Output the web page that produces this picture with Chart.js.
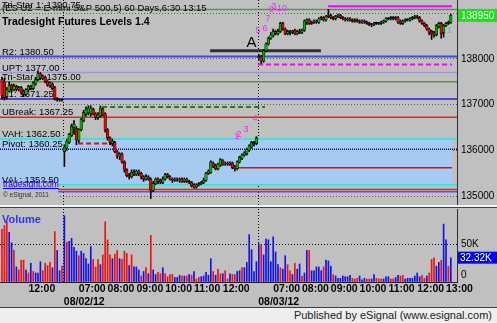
<!DOCTYPE html>
<html><head><meta charset="utf-8">
<script src="https://cdn.jsdelivr.net/npm/chart.js@4.4.1/dist/chart.umd.min.js"></script>
<style>
html,body{margin:0;padding:0}
body{width:497px;height:323px;background:#c0c0c0;position:relative;overflow:hidden;font-family:"Liberation Sans",Arial,sans-serif}
canvas{position:absolute;left:0}
#pc{top:0}
#vc{top:208px}
.ln{position:absolute}
#pub{position:absolute;left:0;top:308px;width:497px;height:15px;background:#eeeeee;font-size:11px;color:#222;text-align:right;line-height:15px}
#pub span{margin-right:5px}
</style></head><body>
<canvas id="pc" width="497" height="205"></canvas>
<div class="ln" style="left:0;top:205px;width:497px;height:2px;background:#f6f6f6"></div>
<div class="ln" style="left:0;top:207px;width:497px;height:1px;background:#404040"></div>
<canvas id="vc" width="497" height="99"></canvas>
<div class="ln" style="left:0;top:307px;width:497px;height:1px;background:#404040"></div>
<div id="pub"><span>Published by eSignal (www.esignal.com)</span></div>
<script>
// ---------- DATA ----------
const chartHeader = '(ES U2 = E-mini S&P 500,5) 60 Days,6:30 13:15';
const chartTitle = 'Tradesight Futures Levels 1.4';

const open = [
1375.5,1375.0,1371.75,1373.0,1374.25,1373.25,1374.0,1373.25,1373.75,1373.0,1372.25,1373.25,1374.0,1373.5,1374.5,1375.5,1376.75,1375.75,1376.0,1375.0,1374.25,1374.5,1373.75,1371.25,1371.0,1371.0,
1359.75,1360.5,1361.75,1363.25,1365.0,1364.75,1362.25,1364.5,1366.5,1368.0,
1368.25,1368.0,1369.0,1368.0,1367.25,1367.5,1369.0,1368.0,1364.5,1362.75,
1361.5,1361.75,1359.75,1358.75,1359.25,1357.5,1355.75,1354.5,1354.25,1355.25,
1354.75,1355.5,1355.0,1354.25,1353.75,1354.25,1353.75,1351.25,1352.75,1353.75,
1353.5,1353.0,1353.75,1354.75,1354.25,1353.75,1353.5,1353.75,1353.5,1353.75,
1353.25,1353.75,1353.25,1353.0,1352.5,1352.0,1352.5,1352.75,1353.0,1353.5,
1355.0,1355.25,1357.25,1356.75,1356.0,1356.75,1357.75,1357.0,1357.25,1357.0,
1357.25,1356.5,1356.0,1357.5,1358.25,1359.0,1359.25,1360.0,1360.75,1361.75,
1361.5,
1380.25,1380.5,1379.5,1381.75,1383.25,1384.5,1385.0,1386.0,1385.5,1386.0,
1387.75,1386.5,1385.5,1386.0,1385.75,1386.25,1385.5,1386.0,1385.75,1386.25,
1388.0,1388.5,1387.75,1388.0,1388.25,1388.0,1388.75,1389.0,1388.5,1389.25,
1389.5,1389.0,1388.75,1389.25,1389.5,1389.0,1388.75,1388.5,1388.75,1388.5,
1388.25,1388.5,1388.25,1388.0,1388.25,1388.0,1387.75,1387.5,1387.5,1387.75,
1387.75,1387.75,1388.0,1388.25,1388.75,1388.75,1389.0,1388.75,1389.0,1388.25,
1387.75,1388.25,1388.5,1388.5,1388.75,1389.0,1389.25,1389.0,1388.25,1387.75,
1387.25,1386.5,1386.0,1385.75,1385.25,1387.0,1387.75,1385.75,1387.25,1387.75,
1388.0];
const high = [
1376.0,1375.75,1373.75,1375.0,1374.5,1374.5,1374.25,1374.0,1374.0,1373.25,1373.5,1374.25,1374.25,1375.0,1376.0,1377.25,1377.0,1376.5,1376.25,1375.25,1375.0,1374.75,1374.0,1371.5,1371.25,1371.25,
1361.25,1362.5,1363.75,1365.75,1366.5,1365.25,1364.75,1367.0,1368.75,1369.5,
1369.75,1369.75,1369.25,1368.25,1368.25,1369.75,1369.25,1368.25,1364.75,1363.0,
1362.5,1362.0,1360.0,1359.5,1359.5,1357.75,1356.0,1355.0,1355.75,1355.75,
1355.75,1355.75,1355.25,1354.5,1354.75,1354.5,1354.0,1353.25,1354.0,1354.0,
1353.75,1354.25,1355.0,1355.0,1354.5,1354.0,1354.0,1354.0,1354.0,1354.0,
1354.0,1354.0,1353.5,1353.25,1352.75,1352.75,1353.0,1353.25,1354.0,1355.25,
1355.75,1357.75,1357.5,1357.0,1357.25,1358.25,1358.0,1357.5,1357.5,1357.5,
1357.5,1356.75,1357.75,1358.75,1359.25,1359.75,1360.5,1361.25,1362.0,1362.0,
1363.0,
1381.0,1380.75,1382.0,1383.5,1384.75,1385.75,1386.5,1386.25,1386.5,1388.0,
1388.0,1386.75,1386.25,1386.25,1386.25,1386.5,1386.25,1386.5,1386.5,1388.5,
1388.75,1388.75,1388.25,1388.5,1388.5,1389.0,1389.25,1389.25,1389.5,1390.75,
1389.75,1389.25,1389.5,1389.75,1389.75,1389.25,1389.0,1389.0,1389.0,1388.75,
1388.75,1388.75,1388.5,1388.5,1388.5,1388.25,1388.0,1387.75,1388.0,1388.0,
1388.0,1388.25,1388.5,1389.0,1389.0,1389.25,1389.25,1389.25,1389.25,1388.5,
1388.5,1388.75,1388.75,1389.0,1389.25,1389.5,1389.5,1389.25,1388.5,1388.0,
1387.5,1386.75,1386.25,1386.0,1387.5,1388.0,1388.0,1387.5,1388.0,1388.25,
1389.75];
const low = [
1371.25,1371.0,1371.25,1372.75,1372.75,1373.0,1373.0,1373.0,1372.25,1371.75,1372.0,1373.0,1373.25,1373.25,1374.25,1375.25,1375.5,1375.5,1374.75,1374.0,1373.75,1373.25,1371.0,1370.75,1370.75,1370.75,
1356.5,1360.0,1361.5,1363.0,1363.5,1361.25,1361.75,1364.25,1366.25,1367.5,
1367.75,1367.5,1367.75,1366.75,1366.75,1367.25,1367.5,1364.0,1362.25,1361.25,
1361.0,1359.5,1358.25,1358.0,1357.25,1355.25,1354.25,1353.75,1354.0,1354.5,
1354.5,1354.5,1353.75,1353.25,1353.5,1353.5,1349.5,1351.0,1352.5,1352.75,
1352.75,1352.75,1353.5,1354.0,1353.5,1353.0,1353.25,1353.25,1353.0,1353.0,
1353.0,1353.0,1352.75,1352.0,1351.75,1351.75,1352.25,1352.5,1352.75,1353.25,
1354.75,1355.0,1356.25,1355.75,1355.75,1356.5,1356.75,1356.75,1356.75,1356.75,
1356.0,1355.5,1355.75,1357.25,1358.0,1358.75,1359.0,1359.75,1360.5,1361.0,
1361.25,
1379.75,1379.0,1379.25,1381.5,1383.0,1384.25,1384.75,1385.25,1385.25,1385.75,
1386.25,1385.25,1385.25,1385.25,1385.5,1385.25,1385.25,1385.5,1385.5,1386.0,
1387.5,1387.5,1387.5,1387.75,1387.75,1387.75,1388.5,1388.25,1388.25,1389.0,
1388.75,1388.5,1388.5,1389.0,1388.75,1388.5,1388.25,1388.25,1388.25,1388.0,
1388.0,1388.0,1387.75,1387.75,1387.75,1387.5,1387.25,1387.0,1387.25,1387.5,
1387.5,1387.5,1387.75,1388.0,1388.5,1388.5,1388.5,1388.5,1387.75,1387.5,
1387.5,1388.0,1388.25,1388.25,1388.5,1388.75,1388.75,1388.0,1387.5,1387.0,
1386.25,1385.25,1384.25,1384.75,1385.0,1386.75,1384.5,1384.75,1387.0,1387.5,
1387.75];
const close = [
1372.0,1371.5,1373.25,1374.25,1373.25,1374.0,1373.25,1373.75,1372.75,1372.25,1373.25,1374.0,1373.5,1374.75,1375.5,1376.75,1375.75,1376.25,1375.0,1374.25,1374.75,1373.5,1371.25,1371.25,1371.0,1371.0,
1360.75,1362.0,1363.5,1365.25,1365.75,1362.25,1364.5,1366.75,1368.25,1369.0,
1369.25,1369.25,1368.0,1367.25,1367.75,1369.25,1367.75,1364.5,1362.75,1361.75,
1362.0,1359.75,1358.75,1359.25,1357.5,1355.75,1354.5,1354.25,1355.25,1354.75,
1355.5,1355.0,1354.25,1353.75,1354.25,1353.75,1351.25,1352.75,1353.75,1353.25,
1353.0,1353.75,1354.75,1354.25,1353.75,1353.5,1353.75,1353.5,1353.75,1353.25,
1353.75,1353.25,1353.0,1352.25,1352.0,1352.5,1352.75,1353.0,1353.5,1355.0,
1355.5,1357.5,1356.5,1356.0,1357.0,1358.0,1357.0,1357.25,1357.0,1357.25,
1356.25,1356.0,1357.5,1358.5,1359.0,1359.5,1360.25,1361.0,1361.75,1361.5,
1362.75,
1380.5,1379.5,1381.75,1383.25,1384.5,1385.25,1386.0,1385.5,1386.0,1387.75,
1386.5,1385.5,1386.0,1385.75,1386.0,1385.5,1386.0,1385.75,1386.25,1388.25,
1388.5,1387.75,1388.0,1388.25,1388.0,1388.75,1389.0,1388.5,1389.25,1389.5,
1389.0,1388.75,1389.25,1389.5,1389.0,1388.75,1388.5,1388.75,1388.5,1388.25,
1388.5,1388.25,1388.0,1388.25,1388.0,1387.75,1387.5,1387.5,1387.75,1387.75,
1387.75,1388.0,1388.25,1388.75,1388.75,1389.0,1388.75,1389.0,1388.0,1387.75,
1388.25,1388.5,1388.5,1388.75,1389.0,1389.25,1389.0,1388.25,1387.75,1387.25,
1386.5,1385.75,1385.5,1385.25,1387.25,1387.75,1385.5,1387.25,1387.75,1388.0,
1389.5];

// volume in thousands of contracts; direction u = blue, d = red
const volume = [
70,75,80,66,52,42,20,16,29,29,16,12,25,14,12,12,27,15,25,22,26,19,67,42,15,21,
88,53,54,58,46,41,35,41,38,31, 24,47,30,20,30,23,36,80,56,36,
31,37,42,31,30,41,38,22,36,20, 20,16,8,14,19,11,62,16,10,13,
11,19,11,7,10,10,6,6,9,8, 8,8,10,9,14,4,6,7,8,13,
9,31,14,9,17,11,11,15,4,11, 10,10,14,15,19,19,26,63,43,14, 27,
51,50,36,57,56,27,60,40,23,19, 17,35,23,15,10,25,17,24,8,12,
42,42,15,15,20,20,15,20,29,28, 21,10,8,5,5,8,7,7,9,5,
4,5,8,3,5,4,4,4,10,5, 4,4,4,7,7,4,4,6,9,8,
9,4,5,5,5,8,12,7,9,5, 8,12,30,32,21,26,29,77,56,21, 32.32];
const volDir = [
'd','d','d','u','u','d','u','d','d','d','u','d','u','d','u','u','u','d','d','d','d','u','d','u','u','d',
'u','d','u','u','u','u','d','u','u','u', 'u','u','d','d','d','u','d','d','d','d',
'u','d','d','u','d','d','d','u','d','u', 'u','u','d','u','d','u','d','u','u','d',
'd','u','d','d','d','d','u','u','u','d', 'u','d','u','d','u','d','d','u','u','u',
'u','u','d','u','d','d','u','d','d','u', 'd','d','u','u','d','u','u','u','u','u', 'u',
'u','d','u','u','u','u','u','u','u','d', 'u','u','d','d','u','d','u','u','d','u',
'u','d','u','u','u','u','u','d','u','u', 'u','d','u','u','u','u','u','u','u','d',
'd','d','u','u','u','d','d','u','u','d', 'd','d','u','u','u','d','d','u','u','d',
'd','u','u','u','u','u','u','u','d','d', 'u','d','d','d','u','u','d','u','u','d', 'u'];

// labelled levels
const levelNames  = ['Tri-Star 1','R2','UPT','Tri-Star 2','R1','UBreak','VAH','Pivot','VAL','S1'];
const levelValues = [1390.75, 1380.50, 1377.00, 1375.00, 1371.25, 1367.25, 1362.50, 1360.25, 1352.50, 1351.50];
const extraLevelValues = [1351.00];
// partial segments: value, from bar, to bar
const segValues = [1391.50, 1381.75, 1378.75, 1369.50, 1361.50, 1356.25];
const segFromBar = [135.8, 86.7, 106.7, 41.7, 31.7, 97.5];
const segToBar   = [187.5, 132.9, 187.5, 109.6, 46.2, 187.5];
const valueAreaEndBar = 187.5;

// text annotations on bars
const noteText  = ['A','5','6','7','0','3','10','1','2','3','4','1'];
const noteBar   = [103.95,106.7,109.6,110.8,112.3,113.3,116.7,97.8,98.75,101.7,105.4,186.3];
const notePrice = [1383.45,1386.1,1386.7,1388.7,1390.8,1391.5,1391.0,1363.15,1363.4,1364.5,1366.9,1386.1];

// axes
const priceTicks = [1350, 1360, 1370, 1380, 1390];
const volTicks = [0, 50];
const timeTickBars = [11, 32, 44, 56, 68, 80, 92, 113, 125, 137, 149, 161, 173, 185];
const timeTickLabels = ['12:00','07:00','08:00','09:00','10:00','11:00','12:00','07:00','08:00','09:00','10:00','11:00','12:00','13:00'];
const dayStartBars = [26, 107];
const dayLabels = ['08/02/12', '08/03/12'];

// ---------- STYLE / LAYOUT ----------
const FONT = '"Liberation Sans", Arial, Helvetica, sans-serif';
const xMin = -0.83, xMax = 189.58;
const priceMin = 1348.09, priceMax = 1392.85;
const volMax = 97;
const levelStyle = {
  'Tri-Star 1': {c:'#4c9a4c', w:1.5}, 'R2': {c:'#4848e8', w:2}, 'UPT': {c:'#a894d0', w:1.5},
  'Tri-Star 2': {c:'#4c9a4c', w:1.5}, 'R1': {c:'#2424d8', w:1.5}, 'UBreak': {c:'#e82020', w:1.5},
  'VAH': {c:'#20e8e8', w:1.5}, 'Pivot': {c:'#000090', w:1.5, d:[1,1]}, 'VAL': {c:'#20e8e8', w:1.5},
  'S1': {c:'#e82020', w:1.5}
};
const extraStyle = [{c:'#5050ff', w:1.5}];
const segStyle = [{c:'#ff00ff', w:2}, {c:'#303030', w:3}, {c:'#ff00ff', w:2, d:[5,3]},
                  {c:'#208020', w:2, d:[5,3]}, {c:'#ff0000', w:2, d:[5,3]}, {c:'#ff0000', w:1.5}];
const noteStyle = noteText.map((t, k) => k === 0 ? {f:'15px', c:'#000'} : (k === noteText.length - 1 ? {f:'9px', c:'#70c070'} : {f:'9px', c:'#ff20ff'}));

const N = close.length;
const idx = Array.from({length: N}, (_, i) => i);
const sepTicks = dayStartBars.map(b => b - 0.25);

function hLine(v, from, to, st) {
  return {type:'line', data:[{x:from, y:v}, {x:to, y:v}], borderColor:st.c, borderWidth:st.w,
          borderDash:st.d || [], pointRadius:0, fill:false, tension:0, order:5};
}

// ---------- PRICE CHART ----------
const pds = [];
pds.push({type:'line', data:[{x:xMin, y:levelValues[6]}, {x:valueAreaEndBar, y:levelValues[6]}],
          borderColor:'rgba(0,0,0,0)', borderWidth:0, pointRadius:0, fill:'+1', backgroundColor:'#a6caf0', order:20});
pds.push({type:'line', data:[{x:xMin, y:levelValues[8]}, {x:valueAreaEndBar, y:levelValues[8]}],
          borderColor:'rgba(0,0,0,0)', borderWidth:0, pointRadius:0, fill:false, order:20});
levelNames.forEach((n, k) => pds.push(hLine(levelValues[k], xMin, xMax, levelStyle[n])));
extraLevelValues.forEach((v, k) => pds.push(hLine(v, xMin, xMax, extraStyle[k])));
segValues.forEach((v, k) => pds.push(hLine(v, segFromBar[k], segToBar[k], segStyle[k])));
const wickIndex = pds.length;
pds.push({type:'bar', data: idx.map(i => ({x:i, y:[low[i], high[i]]})), backgroundColor:'#000',
          barThickness:1, grouped:false, order:2, borderWidth:0});
pds.push({type:'bar', data: idx.map(i => ({x:i, y:[open[i], close[i]]})),
          backgroundColor: idx.map(i => close[i] > open[i] ? '#00b400' : (close[i] < open[i] ? '#f00000' : '#000')),
          borderColor:'#000', borderWidth:0.6, borderSkipped:false,
          barThickness:2.6, minBarLength:1, grouped:false, order:1});

const priceDeco = {
  id: 'priceDeco',
  beforeDatasetDraw(chart, args) {
    if (args.index !== wickIndex) return;
    const {ctx, chartArea: a} = chart; const y = chart.scales.y;
    ctx.save();
    ctx.fillStyle = '#000'; ctx.textAlign = 'left'; ctx.textBaseline = 'alphabetic';
    ctx.font = '9.5px ' + FONT;
    ctx.fillText(chartHeader, a.left + 2, 11);
    levelNames.forEach((n, k) => ctx.fillText(n + ': ' + levelValues[k].toFixed(2), a.left + 2, y.getPixelForValue(levelValues[k]) - 2));
    ctx.font = 'bold 10.5px ' + FONT;
    ctx.fillText(chartTitle, a.left + 2, 25);
    ctx.restore();
  },
  afterDatasetsDraw(chart) {
    const {ctx, chartArea: a} = chart; const x = chart.scales.x, y = chart.scales.y;
    ctx.save();
    ctx.textAlign = 'center'; ctx.textBaseline = 'middle';
    noteText.forEach((t, k) => {
      ctx.font = noteStyle[k].f + ' ' + FONT; ctx.fillStyle = noteStyle[k].c;
      ctx.fillText(t, x.getPixelForValue(noteBar[k]), y.getPixelForValue(notePrice[k]));
    });
    // watermark
    ctx.fillStyle = '#c0c0c0'; ctx.fillRect(a.left, 182.5, 58, 18);
    ctx.textAlign = 'left'; ctx.textBaseline = 'alphabetic';
    ctx.font = '8.5px ' + FONT; ctx.fillStyle = '#0000ff';
    ctx.fillText('tradesight.com', a.left + 3, 186.5);
    const w = ctx.measureText('tradesight.com').width;
    ctx.fillRect(a.left + 3, 188, w, 1);
    ctx.font = '6.5px ' + FONT; ctx.fillStyle = '#303030';
    ctx.fillText('\u00A9 eSignal, 2011', a.left + 3, 197);
    ctx.restore();
  },
  afterDraw(chart) {
    const {ctx, chartArea: a} = chart; const y = chart.scales.y;
    const last = close[N - 1]; const py = y.getPixelForValue(last);
    ctx.save();
    ctx.fillStyle = '#22dd22'; ctx.fillRect(a.right + 1, py - 6.5, chart.width - a.right - 1, 13);
    ctx.fillStyle = '#f0fff0'; ctx.font = '10px ' + FONT; ctx.textAlign = 'left'; ctx.textBaseline = 'middle';
    ctx.fillText(String(Math.round(last * 100)), a.right + 4, py + 0.5);
    ctx.restore();
  }
};

new Chart(document.getElementById('pc'), {
  type: 'line',
  data: {datasets: pds},
  options: {
    responsive:false, animation:false, events:[], devicePixelRatio:1,
    layout:{padding:0},
    plugins:{legend:{display:false}, tooltip:{enabled:false}},
    scales:{
      x:{type:'linear', min:xMin, max:xMax, bounds:'data', offset:false, display:true,
         afterBuildTicks: s => { s.ticks = sepTicks.map(v => ({value:v})); },
         ticks:{display:false},
         grid:{color:'#000', drawTicks:false, offset:false, lineWidth:1},
         border:{display:false, dash:[1,2]},
         afterFit: s => { s.height = 0; s.paddingLeft = 0; s.paddingRight = 0; }},
      y:{type:'linear', position:'right', min:priceMin, max:priceMax, bounds:'data', beginAtZero:false,
         afterBuildTicks: s => { s.ticks = priceTicks.map(v => ({value:v})); },
         ticks:{callback: v => v === 1390 ? '' : String(Math.round(v * 100)), font:{family:FONT, size:10}, color:'#000', padding:4},
         grid:{color:'#5a5a5a', drawTicks:false},
         border:{display:true, color:'#303030', dash:[1,2]},
         afterFit: s => { s.width = 40; s.paddingTop = 0; s.paddingBottom = 0; }}
    }
  },
  plugins:[priceDeco]
});

// ---------- VOLUME CHART ----------
const xTickVals = timeTickBars.concat(sepTicks).sort((a, b) => a - b);
function xLabel(v) {
  const k = timeTickBars.indexOf(v);
  if (k >= 0) return timeTickLabels[k];
  const d = sepTicks.findIndex(s => Math.abs(s - v) < 1e-6);
  return d >= 0 ? ['', dayLabels[d]] : '';
}
const volDeco = {
  id: 'volDeco',
  afterDatasetsDraw(chart) {
    const {ctx, chartArea: a} = chart;
    ctx.save();
    ctx.font = 'bold 11px ' + FONT; ctx.fillStyle = '#3030ff'; ctx.textAlign = 'left'; ctx.textBaseline = 'alphabetic';
    ctx.fillText('Volume', a.left + 2, a.top + 14);
    ctx.restore();
  },
  afterDraw(chart) {
    const {ctx, chartArea: a} = chart; const y = chart.scales.y;
    ctx.save();
    ctx.font = '10px ' + FONT; ctx.textAlign = 'left'; ctx.textBaseline = 'middle';
    ctx.fillStyle = '#000';
    ctx.fillText('0', a.right + 4, y.getPixelForValue(0) - 7);
    const lv = volume[N - 1]; const py = y.getPixelForValue(lv);
    ctx.fillStyle = '#0000ff'; ctx.fillRect(a.right + 1, py - 6, chart.width - a.right - 1, 12);
    ctx.fillStyle = '#ffffff';
    ctx.fillText(lv.toFixed(2) + 'K', a.right + 3, py + 0.5);
    ctx.restore();
  }
};
new Chart(document.getElementById('vc'), {
  type: 'line',
  data: {datasets: [{
    type:'bar', data: idx.map(i => ({x:i, y:volume[i]})),
    backgroundColor: idx.map(i => volDir[i] === 'u' ? '#1010f0' : '#f01010'),
    barThickness:1, grouped:false, borderWidth:0
  }]},
  options: {
    responsive:false, animation:false, events:[], devicePixelRatio:1,
    layout:{padding:{top:1, left:0, right:0, bottom:0}},
    plugins:{legend:{display:false}, tooltip:{enabled:false}},
    scales:{
      x:{type:'linear', min:xMin, max:xMax, bounds:'data', offset:false,
         afterBuildTicks: s => { s.ticks = xTickVals.map(v => ({value:v})); },
         ticks:{autoSkip:false, maxRotation:0, minRotation:0, align:'start', padding:0,
                font:{family:FONT, size:10.5, weight:'bold', lineHeight:1.3}, color:'#000',
                callback: v => xLabel(v)},
         grid:{color: c => (c.tick && sepTicks.some(s => Math.abs(s - c.tick.value) < 1e-6)) ? '#000' : 'rgba(0,0,0,0)',
               drawTicks:false, offset:false},
         border:{display:true, color:'#202020', width:1, dash:[1,2]},
         afterFit: s => { s.height = 25; s.paddingLeft = 0; s.paddingRight = 0; }},
      y:{type:'linear', position:'right', min:0, max:volMax, bounds:'data', beginAtZero:false,
         afterBuildTicks: s => { s.ticks = volTicks.map(v => ({value:v})); },
         ticks:{callback: v => v === 0 ? '' : v + 'K', font:{family:FONT, size:10}, color:'#000', padding:4},
         grid:{color: c => (c.tick && c.tick.value === 0) ? 'rgba(0,0,0,0)' : '#000', drawTicks:false},
         border:{display:true, color:'#303030', dash:[1,2]},
         afterFit: s => { s.width = 40; s.paddingTop = 0; s.paddingBottom = 0; }}
    }
  },
  plugins:[volDeco]
});
</script>
</body></html>
